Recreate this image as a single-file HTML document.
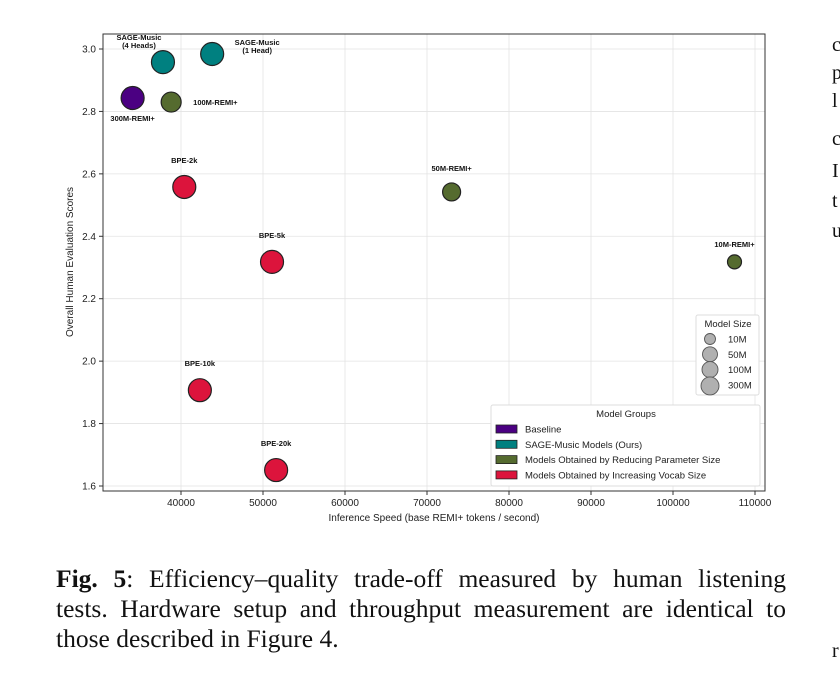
<!DOCTYPE html>
<html><head><meta charset="utf-8"><style>
body{margin:0;background:#fff;width:840px;height:684px;overflow:hidden;position:relative;font-family:"Liberation Sans",sans-serif}
.cap{position:absolute;left:56px;top:564px;width:730px;font-family:"Liberation Serif",serif;font-size:25.5px;line-height:30px;color:#111}
.cap div{white-space:nowrap;text-align:justify;text-align-last:justify}
.cap div.last{text-align-last:left}
.edge{position:absolute;left:832px;font-family:"Liberation Serif",serif;font-size:20px;color:#111}
</style></head><body>
<svg id="chart" width="840" height="540" style="position:absolute;left:0;top:0" font-family="Liberation Sans, DejaVu Sans, sans-serif"></svg>
<div class="cap"><div><b>Fig. 5</b>: Efficiency–quality trade-off measured by human listening</div><div>tests. Hardware setup and throughput measurement are identical to</div><div class="last">those described in Figure 4.</div></div>
<div class="edge" style="top:34px">c</div>
<div class="edge" style="top:62px">p</div>
<div class="edge" style="top:90px">l</div>
<div class="edge" style="top:128px">c</div>
<div class="edge" style="top:160px">I</div>
<div class="edge" style="top:190px">t</div>
<div class="edge" style="top:220px">u</div>
<div class="edge" style="top:640px">r</div>
<script>
const labels=["300M-REMI+","SAGE-Music|(4 Heads)","SAGE-Music|(1 Head)","100M-REMI+","50M-REMI+","10M-REMI+","BPE-2k","BPE-5k","BPE-10k","BPE-20k"];
const speeds=[34100,37800,43800,38800,73000,107500,40400,51100,42300,51600];
const scores=[2.843,2.958,2.984,2.83,2.542,2.318,2.558,2.318,1.907,1.651];
const groups=[0,1,1,2,2,2,3,3,3,3];
const sizes=[300,300,300,100,50,10,300,300,300,300];
const xTicks=[40000,50000,60000,70000,80000,90000,100000,110000];
const yTicks=[1.6,1.8,2.0,2.2,2.4,2.6,2.8,3.0];
const colors=["#4b0082","#008080","#556b2f","#dc143c"];
const groupNames=["Baseline","SAGE-Music Models (Ours)","Models Obtained by Reducing Parameter Size","Models Obtained by Increasing Vocab Size"];
const sizeNames=["10M","50M","100M","300M"];
const X=v=>181+(v-40000)*82/10000;
const Y=v=>49+(3.0-v)*312.14;
const R=s=>({10:7,50:9,100:10,300:11.5})[s]||8;
const svg=document.getElementById('chart');const NS="http://www.w3.org/2000/svg";
function mk(t,a,p){const e=document.createElementNS(NS,t);for(const k in a)e.setAttribute(k,a[k]);(p||svg).appendChild(e);return e;}
const L=103,Rt=765,T=34,B=491;
xTicks.forEach(t=>{const g=mk('line',{x1:X(t),x2:X(t),y1:T,y2:B,stroke:'#e3e3e3','stroke-width':0.8});

mk('line',{x1:X(t),x2:X(t),y1:B,y2:B+4,stroke:'#333'});
const tx=mk('text',{x:X(t),y:B+15,'font-size':10,'text-anchor':'middle',fill:'#222'});tx.textContent=t;
});
yTicks.forEach(t=>{const g=mk('line',{x1:L,x2:Rt,y1:Y(t),y2:Y(t),stroke:'#e3e3e3','stroke-width':0.8});

mk('line',{x1:L-4,x2:L,y1:Y(t),y2:Y(t),stroke:'#333'});
const tx=mk('text',{x:L-7,y:Y(t)+3.5,'font-size':10,'text-anchor':'end',fill:'#222'});tx.textContent=t.toFixed(1);
});
const fr=mk('rect',{x:L,y:T,width:Rt-L,height:B-T,fill:'none',stroke:'#333','stroke-width':1});

let xl=mk('text',{x:434,y:521,'font-size':10,'text-anchor':'middle',fill:'#222'});xl.textContent="Inference Speed (base REMI+ tokens / second)";

let yl=mk('text',{x:73,y:262,'font-size':10,'text-anchor':'middle',fill:'#222',transform:'rotate(-90 73 262)'});yl.textContent="Overall Human Evaluation Scores";

const offs=[[0,23,'middle'],[-24,-19,'middle'],[45,-6,'middle'],[12,3,'start'],[0,-21,'middle'],[0,-15,'middle'],[0,-24,'middle'],[0,-24,'middle'],[0,-24,'middle'],[0,-24,'middle']];
labels.forEach((lb,i)=>{const cx=X(speeds[i]),cy=Y(scores[i]);
const c=mk('circle',{cx,cy,r:R(sizes[i]),fill:colors[groups[i]],stroke:'#222','stroke-width':1.2});

const o=offs[i];const parts=lb.split('|');
const t=mk('text',{x:cx+o[0]+(o[2]==='start'?R(sizes[i]):0),y:cy+o[1]+(parts.length>1?-3:0),'font-size':7.5,'font-weight':'bold','text-anchor':o[2],fill:'#111'});
parts.forEach((p,j)=>{const ts=mk('tspan',{x:t.getAttribute('x'),dy:j?8:0},t);ts.textContent=p;});
});
const sl=mk('g',{});
mk('rect',{x:696,y:315,width:63,height:80,fill:'#fff',stroke:'#ddd',rx:2},sl);
let st=mk('text',{x:728,y:327,'font-size':9.5,'text-anchor':'middle',fill:'#222'},sl);st.textContent="Model Size";
sizeNames.forEach((n,i)=>{const y=339+i*15.3;const r=[5.5,7.5,8,9][i];
const c=mk('circle',{cx:710,cy:y+(i==3?1:0),r,fill:'#b0b0b0',stroke:'#555','stroke-width':0.9},sl);

const t=mk('text',{x:728,y:y+3.5,'font-size':9.5,fill:'#222'},sl);t.textContent=n;});
const gl=mk('g',{});
mk('rect',{x:491,y:405,width:269,height:81,fill:'#fff',stroke:'#ddd',rx:2},gl);
let gt=mk('text',{x:626,y:417,'font-size':9.5,'text-anchor':'middle',fill:'#222'},gl);gt.textContent="Model Groups";
groupNames.forEach((n,i)=>{const y=429+i*15.3;
const r=mk('rect',{x:496,y:y-4,width:21,height:8,fill:colors[i],stroke:'#222','stroke-width':0.8},gl);

const t=mk('text',{x:525,y:y+3.5,'font-size':9.5,fill:'#222'},gl);t.textContent=n;});
</script>
</body></html>
